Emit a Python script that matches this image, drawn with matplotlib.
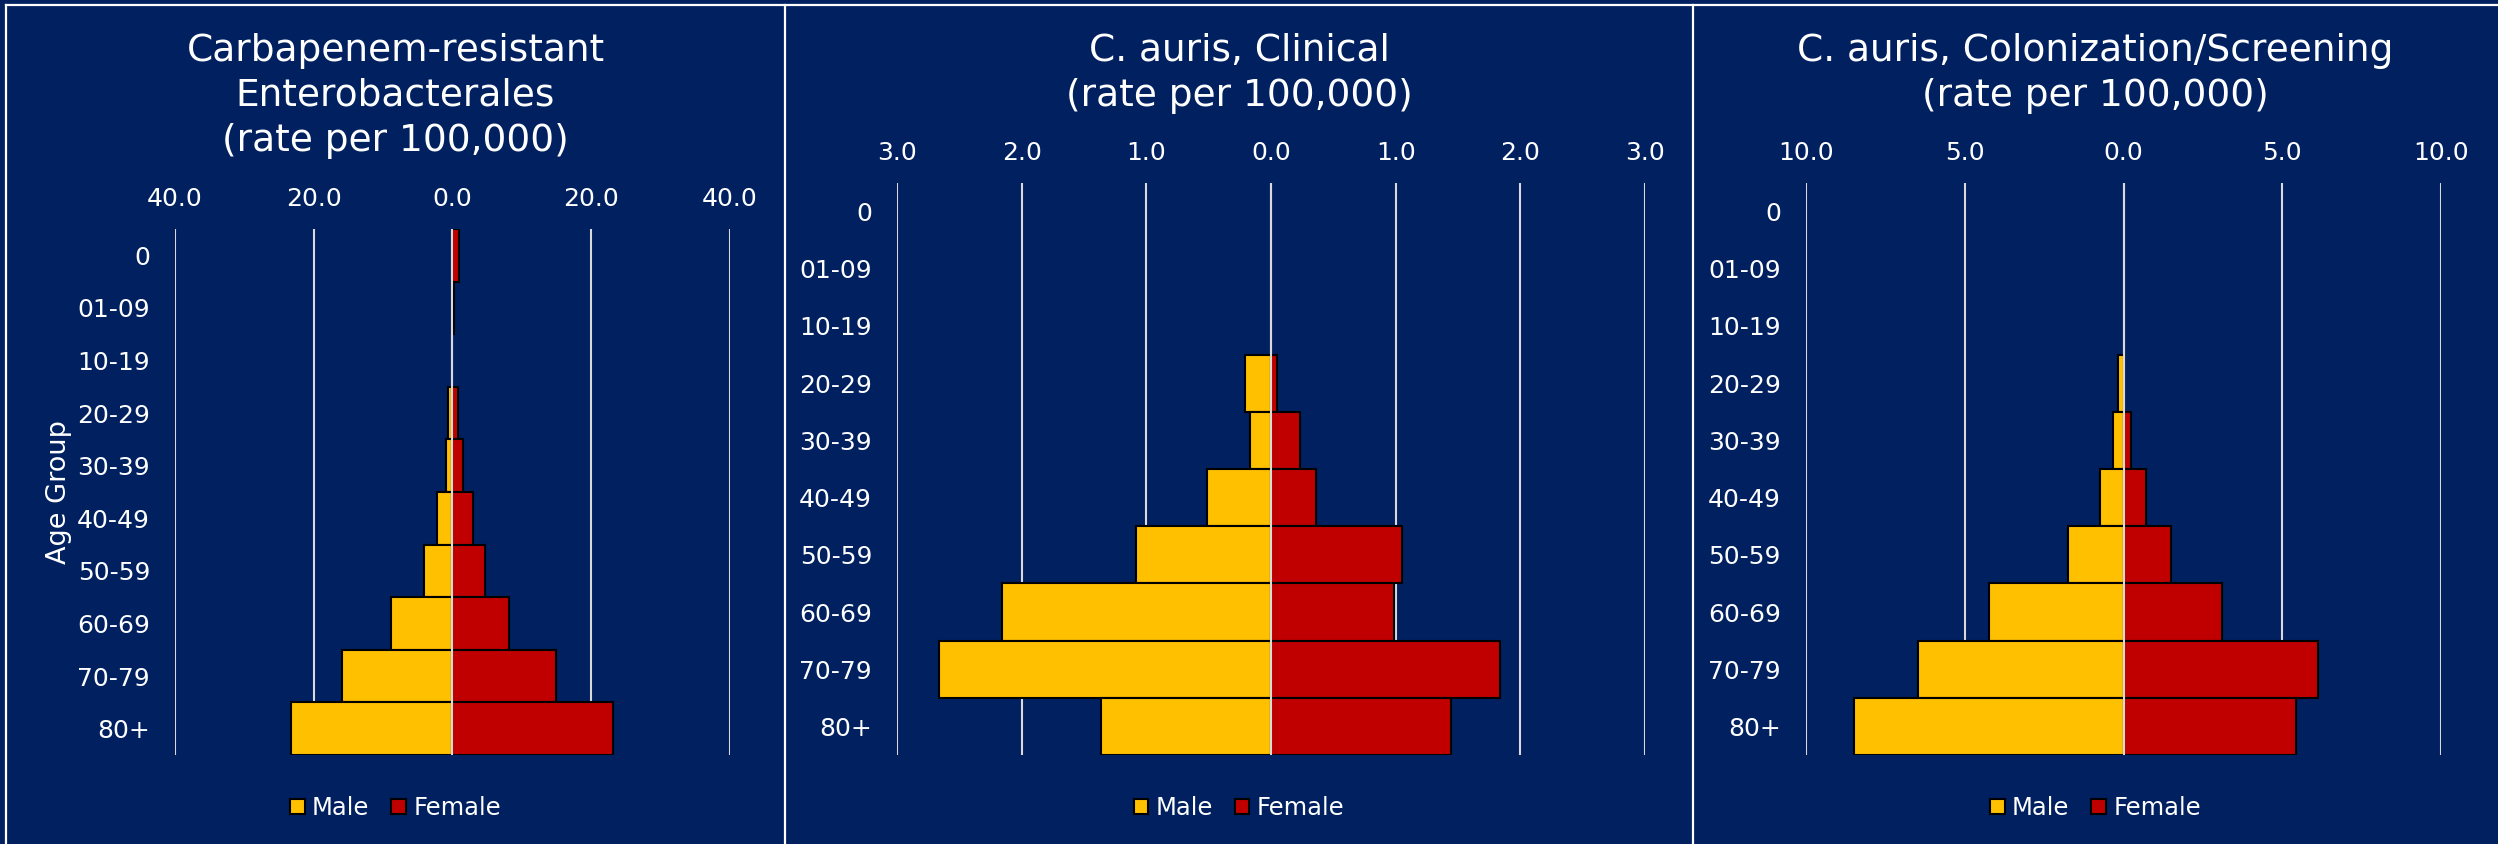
import numpy as np
import matplotlib.pyplot as plt
from matplotlib.lines import Line2D
from matplotlib.patches import Patch
from matplotlib.ticker import FuncFormatter

# Age groups, top to bottom
age_groups = ['0', '01-09', '10-19', '20-29', '30-39', '40-49', '50-59', '60-69', '70-79', '80+']

# Carbapenem-resistant Enterobacterales (rate per 100,000)
cre_male = [0.0, 0.1, 0.0, 0.6, 1.0, 2.2, 4.1, 8.8, 15.9, 23.3]
cre_female = [0.9, 0.2, 0.0, 0.8, 1.5, 3.0, 4.7, 8.1, 14.9, 23.2]

# C. auris, clinical
clin_male = [0.0, 0.0, 0.0, 0.21, 0.17, 0.51, 1.08, 2.16, 2.66, 1.36]
clin_female = [0.0, 0.0, 0.0, 0.05, 0.23, 0.36, 1.05, 0.99, 1.84, 1.44]

# C. auris, colonization/screening
scr_male = [0.0, 0.0, 0.0, 0.17, 0.34, 0.75, 1.75, 4.24, 6.47, 8.48]
scr_female = [0.0, 0.0, 0.0, 0.0, 0.24, 0.71, 1.49, 3.09, 6.13, 5.44]

titles = ['Carbapenem-resistant\nEnterobacterales\n(rate per 100,000)',
          'C. auris, Clinical\n(rate per 100,000)',
          'C. auris, Colonization/Screening\n(rate per 100,000)']
limits = [40, 3, 10]
steps = [20, 1, 5]

BG = '#002060'
MALE = '#FFC000'
FEMALE = '#C00000'
GRID = '#D9D9D9'

W, H = 2498, 844
fig = plt.figure(figsize=(W / 100, H / 100), dpi=100, facecolor=BG)

# axes boxes in pixels: left, right, top, bottom
boxes = [(175, 730, 229, 755), (897, 1645, 183, 755), (1806, 2441, 183, 755)]
# panel extents (x) in pixels
panels = [(6, 785), (785, 1693), (1693, 2498)]

data = [(cre_male, cre_female), (clin_male, clin_female), (scr_male, scr_female)]
y = np.arange(len(age_groups))

for i, ((m, f), (l, r, t, b)) in enumerate(zip(data, boxes)):
    ax = fig.add_axes([l / W, 1 - b / H, (r - l) / W, (b - t) / H])
    ax.set_facecolor(BG)
    m = np.array(m)
    f = np.array(f)
    ax.barh(y, -m, height=1.0, color=MALE, edgecolor='black',
            linewidth=np.where(m > 0, 1.5, 0), zorder=3)
    ax.barh(y, f, height=1.0, color=FEMALE, edgecolor='black',
            linewidth=np.where(f > 0, 1.5, 0), zorder=3)
    ax.axvline(0, color=GRID, lw=1.5, zorder=4)

    lim = limits[i]
    ax.set_xlim(-lim, lim)
    ax.set_ylim(len(age_groups) - 0.5, -0.5)
    ax.set_xticks(np.arange(-lim, lim + 0.01, steps[i]))
    ax.xaxis.set_major_formatter(FuncFormatter(lambda v, p: f'{abs(v):.1f}'))
    ax.xaxis.tick_top()
    ax.set_yticks(y)
    ax.set_yticklabels(age_groups)
    ax.tick_params(axis='both', length=0, colors='white', labelsize=18)
    ax.tick_params(axis='x', pad=13)
    ax.tick_params(axis='y', pad=18)
    ax.grid(axis='x', color=GRID, lw=1.5, zorder=0)
    ax.set_axisbelow(True)
    for s in ax.spines.values():
        s.set_visible(False)

    px0, px1 = panels[i]
    cx = (px0 + px1) / 2 / W
    fig.text(cx, 1 - 33 / H, titles[i], ha='center', va='top', color='white',
             fontsize=27, linespacing=1.32)

    handles = [Patch(facecolor=MALE, edgecolor='black', lw=1.5, label='Male'),
               Patch(facecolor=FEMALE, edgecolor='black', lw=1.5, label='Female')]
    fig.legend(handles=handles, loc='center', bbox_to_anchor=(cx, 1 - 808 / H),
               ncol=2, frameon=False, fontsize=17.5, labelcolor='white',
               handlelength=0.6, handleheight=0.6, handletextpad=0.3,
               columnspacing=0.9)

fig.text(59 / W, 1 - 492 / H, 'Age Group', rotation=90, ha='center', va='center',
         color='white', fontsize=19.5)

# white frame and panel dividers
def fline(x0, y0, x1, y1):
    fig.add_artist(Line2D([x0 / W, x1 / W], [1 - y0 / H, 1 - y1 / H],
                          color='white', lw=1.6))

fline(6, 5, W, 5)
fline(6, 5, 6, H)
fline(785, 5, 785, H)
fline(1693, 5, 1693, H)

fig.savefig('out.png', dpi=100, facecolor=BG)
